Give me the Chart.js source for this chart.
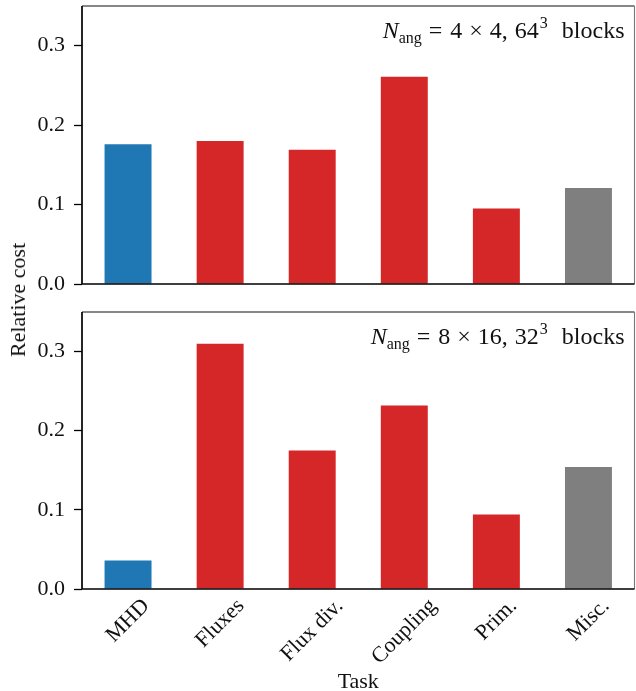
<!DOCTYPE html>
<html>
<head>
<meta charset="utf-8">
<script src="https://cdn.jsdelivr.net/npm/chart.js@4"></script>
<style>
  body { margin: 0; background: #fff; }
  #wrap { position: relative; width: 636px; height: 691px; }
  #top { position: absolute; left: 0; top: 0; width: 636px; height: 300px; }
  #bottom { position: absolute; left: 0; top: 300px; width: 636px; height: 391px; }
  #ylab {
    position: absolute; left: 18px; top: 300px;
    font: 22px "Liberation Serif", serif; color: #111;
    transform: translate(-50%, -50%) rotate(-90deg);
    white-space: nowrap;
  }
</style>
</head>
<body>
<div id="wrap">
  <div id="top"><canvas id="chartTop"></canvas></div>
  <div id="bottom"><canvas id="chartBottom"></canvas></div>
  <div id="ylab">Relative cost</div>
</div>
<script>
// dados
const tarefas = ['MHD', 'Fluxes', 'Flux div.', 'Coupling', 'Prim.', 'Misc.'];
const custoTopo = [0.176, 0.180, 0.169, 0.261, 0.095, 0.121];
const custoBaixo = [0.036, 0.310, 0.175, 0.232, 0.094, 0.154];
const ticksY = [0, 0.1, 0.2, 0.3];
const rotuloTopo = ['4', '4,', '64', '3'];
const rotuloBaixo = ['8', '16,', '32', '3'];

const cores = ['#1f77b4', '#d62728', '#d62728', '#d62728', '#d62728', '#7f7f7f'];
const FONTE = '"Liberation Serif", serif';

// moldura + anotacao N_ang
function pluginPainel(rotulo, comRotulosX) {
  return {
    id: 'painel',
    afterDraw(chart) {
      const ctx = chart.ctx;
      const a = chart.chartArea;
      ctx.save();
      // moldura
      ctx.strokeStyle = '#111';
      ctx.lineWidth = 1.1;
      ctx.beginPath();
      ctx.moveTo(a.left, a.top); ctx.lineTo(a.right, a.top);
      ctx.stroke();
      ctx.strokeStyle = '#777';
      ctx.beginPath();
      ctx.moveTo(a.right, a.top); ctx.lineTo(a.right, a.bottom);
      ctx.stroke();
      ctx.strokeStyle = '#000';
      ctx.lineWidth = 1.7;
      ctx.beginPath();
      ctx.moveTo(a.left, a.top); ctx.lineTo(a.left, a.bottom); ctx.lineTo(a.right, a.bottom);
      ctx.stroke();

      // anotacao (espacamento tipo TeX)
      const f = '24px ' + FONTE, fp = '16px ' + FONTE;
      const pedacos = [
        { t: 'N', f: 'italic 24px ' + FONTE, dy: 0, g: 0 },
        { t: 'ang', f: fp, dy: 5, g: 7 },
        { t: '=', f: f, dy: 0, g: 8 },
        { t: rotulo[0], f: f, dy: 0, g: 7 },
        { t: '\u00d7', f: f, dy: 0, g: 7 },
        { t: rotulo[1], f: f, dy: 0, g: 7 },
        { t: rotulo[2], f: f, dy: 0, g: 1 },
        { t: rotulo[3], f: fp, dy: -10, g: 14 },
        { t: 'blocks', f: f, dy: 0, g: 0 }
      ];
      let total = 0;
      pedacos.forEach(p => { ctx.font = p.f; p.w = ctx.measureText(p.t).width; total += p.w + p.g; });
      let x = a.right - 10 - total;
      const base = a.top + 32;
      ctx.fillStyle = '#111';
      ctx.textBaseline = 'alphabetic';
      ctx.textAlign = 'left';
      pedacos.forEach(p => { ctx.font = p.f; ctx.fillText(p.t, x, base + p.dy); x += p.w + p.g; });

      // rotulos do eixo x (centrados, 45 graus)
      if (comRotulosX) {
        const sx = chart.scales.x;
        ctx.font = '22px ' + FONTE;
        ctx.textAlign = 'center';
        ctx.textBaseline = 'middle';
        const h = 16;
        tarefas.forEach((t, i) => {
          const w = ctx.measureText(t).width;
          const caixa = (w + h) * Math.SQRT1_2;
          const px = sx.getPixelForValue(i);
          const py = a.bottom + 8 + caixa / 2;
          ctx.save();
          ctx.translate(px, py);
          ctx.rotate(-Math.PI / 4);
          ctx.fillText(t, 0, 0);
          ctx.restore();
        });
        ctx.textBaseline = 'alphabetic';
        ctx.fillText('Task', (a.left + a.right) / 2, chart.height - 3);
      }
      ctx.restore();
    }
  };
}

function criarGrafico(id, valores, rotulo, alturaX, topo, comRotulosX) {
  const ctx = document.getElementById(id).getContext('2d');
  return new Chart(ctx, {
    type: 'bar',
    data: {
      labels: tarefas,
      datasets: [{
        data: valores,
        backgroundColor: cores,
        borderWidth: 0,
        barPercentage: 0.51,
        categoryPercentage: 1.0
      }]
    },
    options: {
      responsive: true,
      maintainAspectRatio: false,
      animation: false,
      events: [],
      layout: { padding: { top: topo, right: 1.5, left: 0, bottom: 0 } },
      plugins: { legend: { display: false }, tooltip: { enabled: false } },
      scales: {
        x: {
          offset: true,
          grid: { display: false },
          ticks: { display: false },
          border: { display: false },
          afterFit(s) { s.height = alturaX; s.paddingLeft = 0; s.paddingRight = 0; }
        },
        y: {
          min: 0,
          max: 0.35,
          afterBuildTicks(s) { s.ticks = ticksY.map(v => ({ value: v })); },
          ticks: {
            callback: v => v.toFixed(1),
            font: { family: FONTE, size: 22 },
            color: '#111',
            padding: 9
          },
          grid: { drawOnChartArea: false, drawTicks: true, tickLength: 8, tickWidth: 1.3, tickColor: '#000' },
          border: { display: false },
          afterFit(s) { s.width = 82; s.paddingTop = 0; s.paddingBottom = 0; }
        }
      }
    },
    plugins: [pluginPainel(rotulo, comRotulosX)]
  });
}

criarGrafico('chartTop', custoTopo, rotuloTopo, 16, 6, false);
criarGrafico('chartBottom', custoBaixo, rotuloBaixo, 102, 12, true);
</script>
</body>
</html>
